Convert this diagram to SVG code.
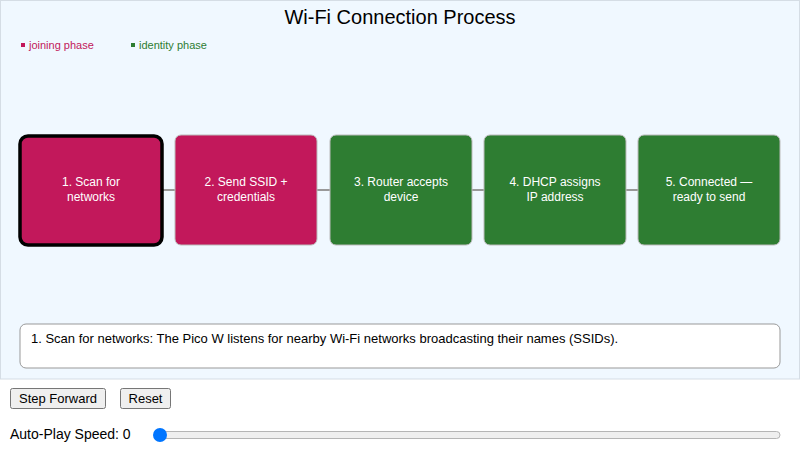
<svg xmlns="http://www.w3.org/2000/svg" width="800" height="462" viewBox="0 0 800 462">
<style>
text{font-family:"Liberation Sans",Arial,sans-serif}
.n{stroke:#bbb;stroke-width:1}
.j{fill:#C2185B}.g{fill:#2E7D32}
.l{fill:#fff;font-size:12px;text-anchor:middle}
.btn{fill:#efefef;stroke:#767676;stroke-width:1}
</style>
<rect x="0.5" y="0.5" width="799" height="378.5" fill="#F0F8FF" stroke="#d5dde5"/>
<text x="400" y="24" font-size="20" text-anchor="middle" fill="#000">Wi-Fi Connection Process</text>
<rect x="21" y="43" width="4" height="4" fill="#C2185B"/>
<text x="29" y="49" font-size="11" fill="#C2185B">joining phase</text>
<rect x="131" y="43" width="4" height="4" fill="#2E7D32"/>
<text x="139" y="49" font-size="11" fill="#2E7D32">identity phase</text>
<g id="connectors" stroke="#999" stroke-width="2">
<line x1="162" y1="190" x2="175" y2="190"/>
<line x1="317" y1="190" x2="330" y2="190"/>
<line x1="472" y1="190" x2="484" y2="190"/>
<line x1="626" y1="190" x2="638" y2="190"/>
</g>
<g id="n1"><rect x="20" y="136" width="142" height="109" rx="8" class="j" stroke="#000" stroke-width="3.5"/><text class="l" x="91" y="186">1. Scan for</text><text class="l" x="91" y="201">networks</text></g>
<g id="n2"><rect x="175" y="135" width="142" height="110" rx="6" class="j n"/><text class="l" x="246" y="186">2. Send SSID +</text><text class="l" x="246" y="201">credentials</text></g>
<g id="n3"><rect x="330" y="135" width="142" height="110" rx="6" class="g n"/><text class="l" x="401" y="186">3. Router accepts</text><text class="l" x="401" y="201">device</text></g>
<g id="n4"><rect x="484" y="135" width="142" height="110" rx="6" class="g n"/><text class="l" x="555" y="186">4. DHCP assigns</text><text class="l" x="555" y="201">IP address</text></g>
<g id="n5"><rect x="638" y="135" width="142" height="110" rx="6" class="g n"/><text class="l" x="709" y="186">5. Connected —</text><text class="l" x="709" y="201">ready to send</text></g>
<rect x="20" y="324" width="760" height="44" rx="6" fill="#fff" stroke="#999"/>
<text x="31" y="343" font-size="13" fill="#000">1. Scan for networks: The Pico W listens for nearby Wi-Fi networks broadcasting their names (SSIDs).</text>
<rect x="10.5" y="388.5" width="95" height="20" rx="2" class="btn"/>
<text x="58" y="403" font-size="13" text-anchor="middle">Step Forward</text>
<rect x="120.5" y="388.5" width="50" height="20" rx="2" class="btn"/>
<text x="145.5" y="403" font-size="13" text-anchor="middle">Reset</text>
<text x="10" y="439" font-size="14">Auto-Play Speed: 0</text>
<rect x="155" y="431.5" width="625" height="7" rx="3.5" fill="#efefef" stroke="#b5b5b5"/>
<circle cx="160" cy="435" r="7" fill="#0075ff"/>
</svg>
